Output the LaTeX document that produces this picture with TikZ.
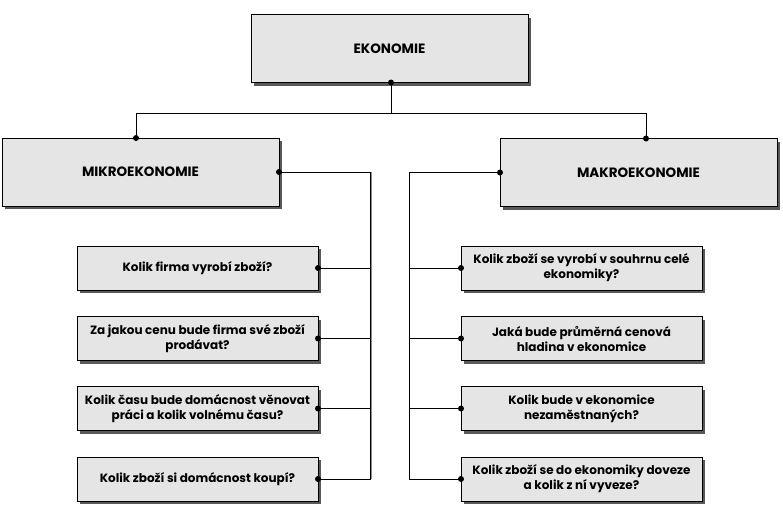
\documentclass[tikz,border=0pt]{standalone}
\usepackage{fontspec}
\setmainfont{Poppins}
\usetikzlibrary{shadows,calc}
\begin{document}
\begin{tikzpicture}[x=1pt,y=-1pt,
  box/.style={draw=black, line width=1pt, fill=black!10, inner sep=0pt, outer sep=0pt,
    align=center,
    drop shadow={shadow xshift=3.2pt, shadow yshift=-3.2pt, fill=black!65, opacity=1}},
  big/.style={box, minimum width=277pt, minimum height=68pt, font=\bfseries\fontsize{13.5}{16}\selectfont},
  qbox/.style={box, minimum width=241pt, minimum height=44pt, font=\bfseries\fontsize{12}{15}\selectfont},
  conn/.style={line width=0.9pt, black}]
\useasboundingbox (0,0) rectangle (783,517);
\node[big] (eko) at (389.5,48.5) {EKONOMIE};
\node[big] (mikro) at (140.5,172) {MIKROEKONOMIE};
\node[big] (makro) at (638.5,172.5) {MAKROEKONOMIE};
\node[qbox] (l1) at (197.5,268) {Kolik firma vyrobí zboží?};
\node[qbox] (l2) at (197.5,338.5) {Za jakou cenu bude firma své zboží\\prodávat?};
\node[qbox] (l3) at (197.5,408.5) {Kolik času bude domácnost věnovat\\práci a kolik volnému času?};
\node[qbox] (l4) at (197.5,479) {Kolik zboží si domácnost koupí?};
\node[qbox] (r1) at (581.5,268) {Kolik zboží se vyrobí v souhrnu celé\\ekonomiky?};
\node[qbox] (r2) at (581.5,338.5) {Jaká bude průměrná cenová\\hladina v ekonomice};
\node[qbox] (r3) at (581.5,408.5) {Kolik bude v ekonomice\\nezaměstnaných?};
\node[qbox] (r4) at (581.5,479) {Kolik zboží se do ekonomiky doveze\\a kolik z ní vyveze?};
% connector anchors
\coordinate (ekob) at ($(eko.south)+(1.5,0)$);
\coordinate (mt) at ($(mikro.north)+(-4.5,0)$);
\coordinate (kt) at ($(makro.north)+(7.5,0)$);
\coordinate (hbus) at (0,113);
\coordinate (lbus) at (370,0);
\coordinate (rbus) at (409,0);
% top tree
\draw[conn] (ekob) -- (ekob |- hbus);
\draw[conn] (mt) -- (mt |- hbus) -- (kt |- hbus) -- (kt);
% left bus
\draw[black!45, line width=0.9pt] ($(lbus |- mikro.east)+(1.3,0)$) -- ($(lbus |- l4.east)+(1.3,0)$);
\draw[conn] (mikro.east) -- (lbus |- mikro.east) -- (lbus |- l4.east) -- (l4.east);
\foreach \n in {l1,l2,l3} \draw[conn] (\n.east) -- (lbus |- \n.east);
% right bus
\draw[conn] (makro.west) -- (rbus |- makro.west) -- (rbus |- r4.west) -- (r4.west);
\foreach \n in {r1,r2,r3} \draw[conn] (\n.west) -- (rbus |- \n.west);
% dots
\foreach \p in {ekob,mt,kt,mikro.east,makro.west,l1.east,l2.east,l3.east,l4.east,r1.west,r2.west,r3.west,r4.west}
  \fill[black] (\p) circle[radius=3pt];
\end{tikzpicture}
\end{document}
